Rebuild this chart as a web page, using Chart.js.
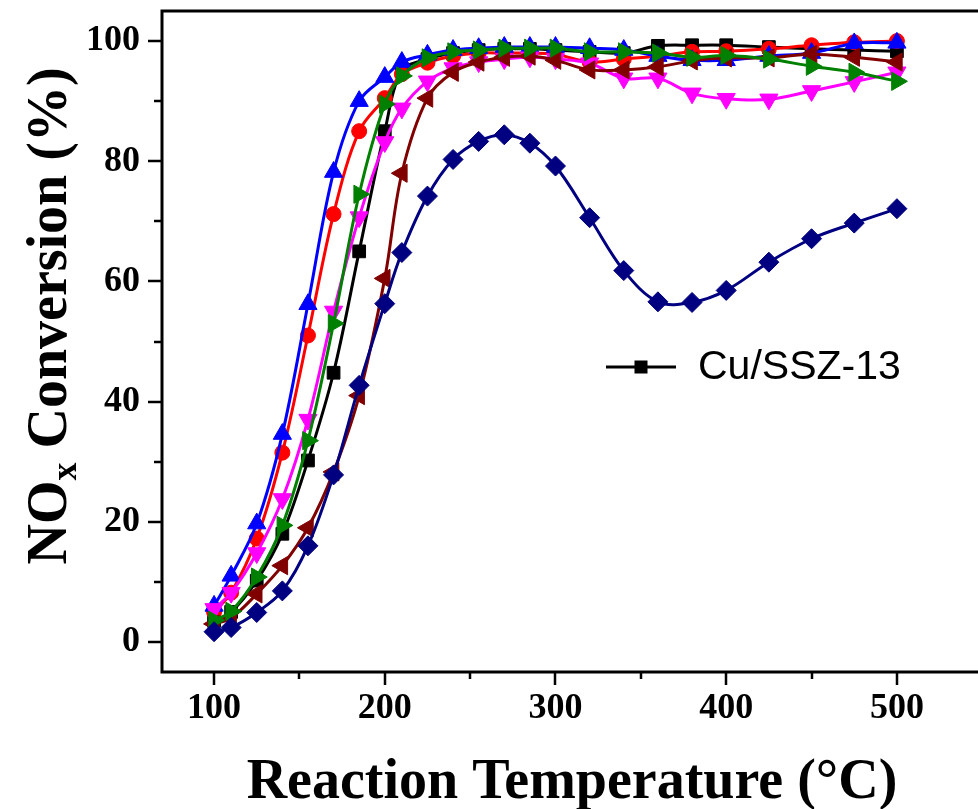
<!DOCTYPE html>
<html>
<head>
<meta charset="utf-8">
<script src="https://cdn.jsdelivr.net/npm/chart.js@4.4.1/dist/chart.umd.min.js"></script>
<style>
  html, body { margin: 0; padding: 0; background: #fff; overflow: hidden; }
  canvas { display: block; }
</style>
</head>
<body>
<canvas id="nox" width="978" height="809"></canvas>
<script>
// reaction temperatures (°C)
const temps = [100, 110, 125, 140, 155, 170, 185, 200, 210, 225, 240, 255, 270, 285, 300, 320, 340, 360, 380, 400, 425, 450, 475, 500];

// NOx conversion (%)
const cuSSZ13 = [3.5, 5, 10.2, 18, 30.2, 44.8, 65, 85, 95, 97, 98, 98.5, 98.7, 98.7, 98.5, 98.2, 98, 99.2, 99.3, 99.3, 99, 98.7, 98.5, 98.3];
const redSeries = [5, 8.2, 17.2, 31.5, 51, 71.2, 85, 90.5, 94.5, 96.4, 97.5, 98, 98, 98, 97.8, 96.5, 97, 97.5, 98.2, 98.3, 98.7, 99.3, 99.8, 100];
const blueSeries = [6, 11, 19.7, 34.6, 56.2, 78.2, 90, 94, 96.5, 97.7, 98.5, 98.8, 99, 99, 99, 98.8, 98.5, 97.5, 96.8, 96.8, 97.5, 98, 99.6, 99.7];
const magentaSeries = [5.5, 8.2, 14.8, 23.8, 37, 55, 70.7, 83.2, 88.8, 93.3, 95.5, 96.5, 97, 97.3, 97, 96.3, 93.8, 93.8, 91.3, 90.4, 90.3, 91.7, 93.2, 94.8];
const greenSeries = [3.6, 5.1, 10.8, 19.4, 33.5, 53, 74.5, 89.5, 94.2, 97.2, 98.2, 98.5, 98.8, 98.8, 98.8, 98.2, 98.2, 98, 97.3, 97.6, 97, 95.8, 94.8, 93.3];
const maroonSeries = [3, 4, 8, 12.7, 19, 28.3, 41, 60.5, 78, 90.5, 94.8, 96.5, 97.3, 97.5, 96.8, 95.2, 95.2, 95.7, 96.7, 97.2, 97.2, 97.8, 97.3, 96.5];
const navySeries = [1.7, 2.4, 4.9, 8.5, 16, 27.8, 42.7, 56.3, 64.8, 74.2, 80.3, 83.3, 84.4, 83, 79.2, 70.6, 61.8, 56.6, 56.5, 58.5, 63.2, 67.1, 69.7, 72.1];

// axis ticks
const xTicks = [100, 200, 300, 400, 500];
const yTicks = [0, 20, 40, 60, 80, 100];

const legendLabel = 'Cu/SSZ-13';

function series(label, values, color, style, radius, rotation, order) {
  return {
    label: label,
    data: temps.map((t, i) => ({ x: t, y: values[i] })),
    borderColor: color,
    backgroundColor: color,
    borderWidth: 3,
    pointStyle: style,
    pointRadius: radius,
    pointRotation: rotation,
    pointBorderWidth: 1,
    pointBorderColor: color,
    pointBackgroundColor: color,
    tension: 0.35,
    order: order,
    clip: false
  };
}

const datasets = [
  series('Navy', navySeries, '#000080', 'rectRot', 10, 0, 0),
  series('Green', greenSeries, '#008000', 'triangle', 10.5, 90, 1),
  series('Maroon', maroonSeries, '#800000', 'triangle', 10.5, 270, 2),
  series('Magenta', magentaSeries, '#FF00FF', 'triangle', 10.5, 180, 3),
  series('Blue', blueSeries, '#0000FF', 'triangle', 10.5, 0, 4),
  series('Red', redSeries, '#FF0000', 'circle', 7.5, 0, 5),
  series(legendLabel, cuSSZ13, '#000000', 'rect', 9, 0, 6)
];

// frame, in/out ticks, axis titles and the one-entry legend
const decor = {
  id: 'decor',
  afterDraw(chart) {
    const { ctx, chartArea: a, scales: { x, y } } = chart;
    ctx.save();
    ctx.strokeStyle = '#000';
    ctx.lineWidth = 3;
    ctx.beginPath();
    ctx.moveTo(a.right + 5, a.top);
    ctx.lineTo(a.left, a.top);
    ctx.lineTo(a.left, a.bottom);
    ctx.lineTo(a.right + 5, a.bottom);
    ctx.stroke();

    ctx.lineWidth = 2.5;
    ctx.beginPath();
    for (let v = 0; v <= 100; v += 10) {
      const len = yTicks.includes(v) ? 14 : 8;
      const py = Math.round(y.getPixelForValue(v));
      ctx.moveTo(a.left - len, py);
      ctx.lineTo(a.left, py);
    }
    for (let v = 100; v <= 500; v += 50) {
      const len = xTicks.includes(v) ? 13 : 7;
      const px = Math.round(x.getPixelForValue(v));
      ctx.moveTo(px, a.bottom);
      ctx.lineTo(px, a.bottom + len);
    }
    ctx.stroke();

    // x title
    ctx.fillStyle = '#000';
    ctx.font = 'bold 56px "Liberation Serif"';
    ctx.textAlign = 'center';
    ctx.textBaseline = 'alphabetic';
    ctx.fillText('Reaction Temperature (°C)', 572, 798);

    // y title with subscript
    ctx.save();
    ctx.translate(66, 316);
    ctx.rotate(-Math.PI / 2);
    ctx.textAlign = 'left';
    const big = 'bold 56px "Liberation Serif"';
    const small = 'bold 36px "Liberation Serif"';
    ctx.font = big;
    const w1 = ctx.measureText('NO').width;
    const w3 = ctx.measureText(' Conversion (%)').width;
    ctx.font = small;
    const w2 = ctx.measureText('x').width;
    let sx = -(w1 + w2 + w3) / 2;
    ctx.font = big;
    ctx.fillText('NO', sx, 0);
    ctx.font = small;
    ctx.fillText('x', sx + w1, 10);
    ctx.font = big;
    ctx.fillText(' Conversion (%)', sx + w1 + w2, 0);
    ctx.restore();

    // legend
    const ly = 367;
    ctx.lineWidth = 3;
    ctx.beginPath();
    ctx.moveTo(606, ly);
    ctx.lineTo(676, ly);
    ctx.stroke();
    ctx.fillRect(641 - 6.5, ly - 6.5, 13, 13);
    ctx.font = '41px "Liberation Sans"';
    ctx.textAlign = 'left';
    ctx.textBaseline = 'middle';
    ctx.fillText(legendLabel, 698, ly + 1);
    ctx.restore();
  }
};

new Chart(document.getElementById('nox'), {
  type: 'line',
  data: { datasets: datasets },
  options: {
    responsive: false,
    animation: false,
    layout: { autoPadding: false, padding: { top: 11, right: 0, left: 0, bottom: 0 } },
    plugins: { legend: { display: false }, tooltip: { enabled: false } },
    scales: {
      x: {
        type: 'linear',
        min: 69.5,
        max: 547.5,
        afterBuildTicks: (s) => { s.ticks = xTicks.map(v => ({ value: v })); },
        afterFit: (s) => { s.height = 137; s.paddingLeft = 0; s.paddingRight = 0; },
        grid: { display: false, drawTicks: false },
        border: { display: false },
        ticks: {
          color: '#000',
          padding: 15,
          maxRotation: 0,
          font: { family: 'Liberation Serif', weight: 'bold', size: 36, lineHeight: 1.2 }
        }
      },
      y: {
        type: 'linear',
        min: -5,
        max: 105,
        afterBuildTicks: (s) => { s.ticks = yTicks.map(v => ({ value: v })); },
        afterFit: (s) => { s.width = 162; s.paddingTop = 0; s.paddingBottom = 0; },
        grid: { display: false, drawTicks: false },
        border: { display: false },
        ticks: {
          color: '#000',
          padding: 22,
          font: { family: 'Liberation Serif', weight: 'bold', size: 36, lineHeight: 1.2 }
        }
      }
    }
  },
  plugins: [decor]
});
</script>
</body>
</html>
